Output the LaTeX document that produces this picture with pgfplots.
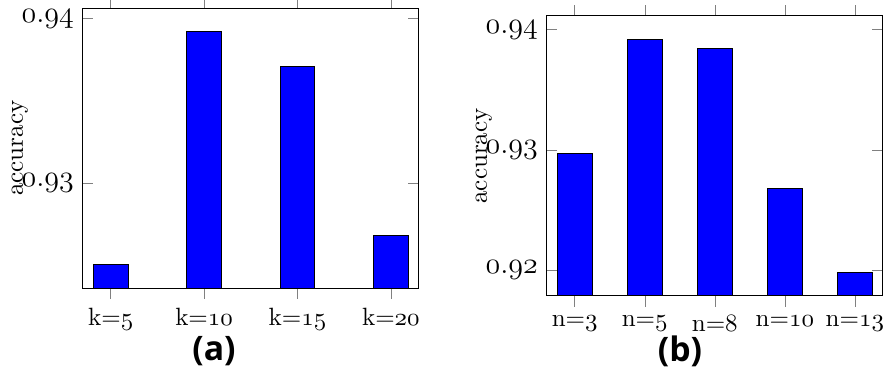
\documentclass[border=0pt]{standalone}
\usepackage{fontspec}
\newfontfamily\capfont{Open Sans}
\usepackage{pgfplots}
\pgfplotsset{compat=1.18}
\newcommand\osf[1]{$\mathnormal{#1}$}
\begin{document}
\begin{tikzpicture}
\path[use as bounding box] (0pt,0pt) rectangle (353.6pt,-149.2pt);
\pgfplotsset{
  mybars/.style={
    anchor=south west,
    scale only axis,
    width=134.5pt, height=112pt,
    ybar, bar width=13.9pt,
    xtick=data,
    ylabel={accuracy},
    ylabel style={at={(axis description cs:-0.187,0.5)}, anchor=center, rotate=0},
    yticklabel style={font=\fontsize{11.5}{13}\selectfont},
    xticklabel style={font=\normalsize},
  }
}
\begin{axis}[mybars, at={(33.08pt,-115.32pt)},
  xmin=-0.3, xmax=3.3, ymin=0.92358, ymax=0.94062,
  ytick={0.93,0.94}, yticklabels={\osf{0.93},\osf{0.94}},
  xticklabels={k=\osf{5},k=\osf{10},k=\osf{15},k=\osf{20}}]
\addplot[fill=blue, draw=black] coordinates {(0,0.9250) (1,0.9392) (2,0.9371) (3,0.9268)};
\end{axis}
\begin{axis}[mybars, at={(218.68pt,-118.4pt)},
  xmin=-0.4, xmax=4.4, ymin=0.91786, ymax=0.94114,
  ytick={0.92,0.93,0.94}, yticklabels={\osf{0.92},\osf{0.93},\osf{0.94}},
  xticklabels={n=\osf{3},n=\osf{5},n=\osf{8},n=\osf{10},n=\osf{13}}]
\addplot[fill=blue, draw=black] coordinates {(0,0.9297) (1,0.9392) (2,0.9384) (3,0.9268) (4,0.9198)};
\end{axis}
\node[font=\capfont\bfseries\fontsize{13.5}{15}\selectfont] at (85.6pt,-140.4pt) {(a)};
\node[font=\capfont\bfseries\fontsize{13.5}{15}\selectfont] at (272pt,-140.4pt) {(b)};
\end{tikzpicture}
\end{document}
